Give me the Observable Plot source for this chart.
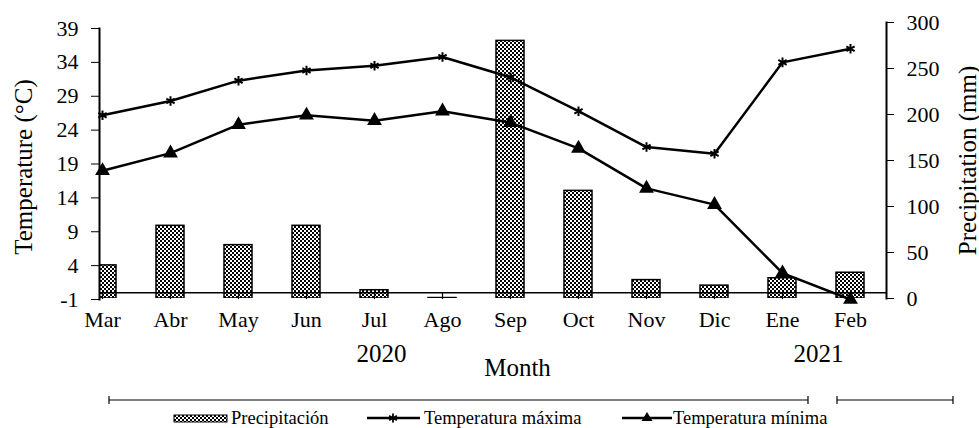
<!DOCTYPE html>
<html>
<head>
<meta charset="utf-8">
<script src="https://cdn.jsdelivr.net/npm/d3@7"></script>
<script src="https://cdn.jsdelivr.net/npm/@observablehq/plot@0.6"></script>
<style>
  html, body { margin: 0; padding: 0; background: white; }
  #wrap { position: relative; width: 979px; height: 428px; font-family: 'Liberation Serif', 'Times New Roman', serif; overflow: hidden; }
  #wrap > svg { position: absolute; left: 0; top: 0; }
</style>
</head>
<body>
<div id="wrap"></div>
<script>
const months = ["Mar","Abr","May","Jun","Jul","Ago","Sep","Oct","Nov","Dic","Ene","Feb"];
const tMax   = [26.2, 28.3, 31.3, 32.8, 33.5, 34.8, 31.8, 26.8, 21.5, 20.5, 34.0, 36.0];
const tMin   = [18.0, 20.6, 24.8, 26.2, 25.4, 26.8, 25.1, 21.3, 15.4, 13.0, 2.9, -1.0];
const precip = [36, 79, 58, 79, 9, 0.5, 280, 117, 20, 14, 22, 28];
const tempTicks = [-1, 4, 9, 14, 19, 24, 29, 34, 39];
const precipTicks = [0, 50, 100, 150, 200, 250, 300];
const legendLabels = ["Precipitación", "Temperatura máxima", "Temperatura mínima"];

const rows = months.map((m, i) => ({month: m, tMax: tMax[i], tMin: tMin[i], precip: precip[i]}));

const W = 979, H = 385;
const font = "'Liberation Serif', 'Times New Roman', serif";
const baseStyle = {fontFamily: font, fontSize: "22px", background: "transparent", color: "black", overflow: "visible"};
const step = (852 - 99) / 11;

// Plot A: precipitation bars + right axis
const plotA = Plot.plot({
  width: W, height: H,
  marginLeft: 99, marginRight: W - 886, marginTop: 22, marginBottom: H - 298,
  style: baseStyle,
  x: {type: "band", domain: months, range: [99 - step / 2, 852 + step / 2], paddingInner: 0.59, paddingOuter: 0.295, axis: null},
  y: {domain: [0, 300]},
  marks: [
    Plot.barY(rows, {x: "month", y: "precip", fill: "url(#checker)", stroke: "black", strokeWidth: 1.5, clip: true}),
    Plot.frame({anchor: "right", stroke: "black", strokeWidth: 2}),
    Plot.axisY({anchor: "right", ticks: precipTicks, tickSize: 7, tickPadding: 13, tickFormat: d => String(d), label: null, fontSize: 22}),
    Plot.text(["Precipitation (mm)"], {text: d => d, frameAnchor: "right", textAnchor: "middle", lineAnchor: "middle", rotate: -90, dx: 81, fontSize: 25})
  ]
});
const ns = "http://www.w3.org/2000/svg";
function addPattern(svg, id) {
  const defs = document.createElementNS(ns, "defs");
  defs.innerHTML = `<pattern id="${id}" width="4" height="4" patternUnits="userSpaceOnUse">
    <rect width="4" height="4" fill="white"/><rect width="2" height="2" fill="black"/><rect x="2" y="2" width="2" height="2" fill="black"/></pattern>`;
  svg.insertBefore(defs, svg.firstChild);
}
addPattern(plotA, "checker");

// Plot B: temperature lines + left axis + x axis
const plotB = Plot.plot({
  width: W, height: H,
  marginLeft: 99, marginRight: W - 886, marginTop: 28, marginBottom: H - 299,
  style: baseStyle,
  x: {type: "point", domain: months, range: [99, 852], padding: 0},
  y: {domain: [-1, 39]},
  marks: [
    Plot.ruleY([0], {stroke: "black", strokeWidth: 1.5}),
    Plot.ruleX(months, {x: d => d, y1: 0, y2: -1, stroke: "black", strokeWidth: 1.2}),
    Plot.frame({anchor: "left", stroke: "black", strokeWidth: 2}),
    Plot.axisY({ticks: tempTicks, tickSize: 8, tickPadding: 13, tickFormat: d => String(d), label: null, fontSize: 22}),
    Plot.axisX({tickSize: 0, tickPadding: 12, label: null, fontSize: 22}),
    Plot.line(rows, {x: "month", y: "tMax", stroke: "black", strokeWidth: 2.5}),
    Plot.line(rows, {x: "month", y: "tMin", stroke: "black", strokeWidth: 2.5}),
    Plot.dot(rows, {x: "month", y: "tMax", symbol: "asterisk", r: 4.5, stroke: "black", strokeWidth: 2}),
    Plot.dot(rows, {x: "month", y: "tMin", symbol: "triangle", r: 5.5, fill: "black", stroke: "none"}),
    Plot.text(["Temperature (°C)"], {text: d => d, frameAnchor: "left", textAnchor: "middle", lineAnchor: "middle", rotate: -90, dx: -76, dy: 3, fontSize: 25}),
    Plot.text(["2020"], {text: d => d, x: () => "Jul", frameAnchor: "bottom", lineAnchor: "middle", textAnchor: "middle", dx: 7, dy: 54, fontSize: 25}),
    Plot.text(["2021"], {text: d => d, x: () => "Feb", frameAnchor: "bottom", lineAnchor: "middle", textAnchor: "middle", dx: -32, dy: 54, fontSize: 25}),
    Plot.text(["Month"], {text: d => d, x: () => "Sep", frameAnchor: "bottom", lineAnchor: "middle", textAnchor: "middle", dx: 7, dy: 68, fontSize: 25})
  ]
});

const wrap = document.getElementById("wrap");
wrap.appendChild(plotA);
wrap.appendChild(plotB);

// Legend and year brackets below the plot
const leg = document.createElementNS(ns, "svg");
leg.setAttribute("width", W);
leg.setAttribute("height", 43);
leg.style.position = "absolute";
leg.style.left = "0px";
leg.style.top = H + "px";
leg.innerHTML = `
  <defs><pattern id="checker2" width="4" height="4" patternUnits="userSpaceOnUse">
    <rect width="4" height="4" fill="white"/><rect width="2" height="2" fill="black"/><rect x="2" y="2" width="2" height="2" fill="black"/></pattern></defs>
  <g stroke="black" stroke-width="1.2">
    <line x1="109" x2="808" y1="15" y2="15"/><line x1="109" x2="109" y1="11" y2="19"/><line x1="808" x2="808" y1="11" y2="19"/>
    <line x1="837" x2="953" y1="15" y2="15"/><line x1="837" x2="837" y1="11" y2="19"/><line x1="953" x2="953" y1="11" y2="19"/>
  </g>
  <rect x="174" y="30" width="53" height="7" fill="url(#checker2)" stroke="black" stroke-width="1"/>
  <line x1="367" x2="420" y1="33" y2="33" stroke="black" stroke-width="2.5"/>
  <g stroke="black" stroke-width="1.8" transform="translate(393,33)">
    <line x1="0" y1="-4.5" x2="0" y2="4.5"/><line x1="-3.9" y1="-2.25" x2="3.9" y2="2.25"/><line x1="-3.9" y1="2.25" x2="3.9" y2="-2.25"/>
  </g>
  <line x1="622" x2="672" y1="33" y2="33" stroke="black" stroke-width="2.5"/>
  <polygon points="647,27 652.5,36 641.5,36" fill="black"/>
  <g font-family="${font}" font-size="18.5" fill="black">
    <text x="231" y="39">${legendLabels[0]}</text>
    <text x="424" y="39">${legendLabels[1]}</text>
    <text x="673" y="39">${legendLabels[2]}</text>
  </g>`;
wrap.appendChild(leg);
</script>
</body>
</html>
